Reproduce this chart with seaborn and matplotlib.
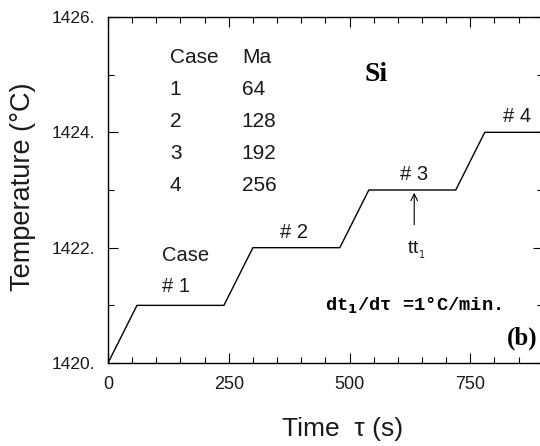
import matplotlib
matplotlib.use("Agg")
import matplotlib.pyplot as plt
from matplotlib.ticker import MultipleLocator, FuncFormatter
import seaborn as sns
import pandas as pd

# Heating schedule: time (s) and temperature (°C) breakpoints
time_s = [0, 60, 240, 300, 480, 540, 720, 780, 900]
temp_c = [1420, 1421, 1421, 1422, 1422, 1423, 1423, 1424, 1424]

# Case table
cases = ["1", "2", "3", "4"]
marangoni = ["64", "128", "192", "256"]

df = pd.DataFrame({"time": time_s, "temp": temp_c})

sns.set_theme(style="ticks")
plt.rcParams["font.family"] = ["Liberation Sans", "DejaVu Sans"]

ink = "#1a1a1a"

fig = plt.figure(figsize=(5.4, 4.46), dpi=100)
ax = fig.add_axes([0.2, 0.186, 0.805, 0.776])

sns.lineplot(data=df, x="time", y="temp", ax=ax, color="black", linewidth=1.0)

ax.set_xlim(0, 900)
ax.set_ylim(1420, 1426)
ax.xaxis.set_major_locator(MultipleLocator(250))
ax.xaxis.set_minor_locator(MultipleLocator(50))
ax.yaxis.set_major_locator(MultipleLocator(2))
ax.yaxis.set_minor_locator(MultipleLocator(1))
ax.yaxis.set_major_formatter(FuncFormatter(lambda v, p: f"{v:.0f}."))
ax.tick_params(which="both", direction="in", top=True, right=True,
               colors="black", labelcolor=ink, width=0.8)
ax.tick_params(which="major", length=7)
ax.tick_params(which="minor", length=4)
ax.tick_params(axis="x", pad=9, labelsize=13)
ax.tick_params(axis="y", pad=9, labelsize=12.5)
for s in ax.spines.values():
    s.set_color("black")
    s.set_linewidth(1.0)

ax.set_xlabel("Time  τ (s)", fontsize=19, color=ink)
ax.set_ylabel("Temperature (°C)", fontsize=19.5, color=ink)
ax.xaxis.set_label_coords(0.54, -0.155)
ax.yaxis.set_label_coords(-0.165, 0.51)

# Case / Ma table
ax.text(128, 1425.3, "Case", fontsize=15, ha="left", va="center", color=ink)
ax.text(277, 1425.3, "Ma", fontsize=15, ha="left", va="center", color=ink)
for i, (c, m) in enumerate(zip(cases, marangoni)):
    y = 1424.75 - 0.56 * i
    ax.text(128, y, c, fontsize=15, ha="left", va="center", color=ink)
    ax.text(277, y, m, fontsize=15, ha="left", va="center", color=ink)

ax.text(556, 1425.0, "Si", fontsize=20, fontweight="bold",
        family="Liberation Serif", ha="center", va="center", color="black")

# Step labels
ax.text(112, 1421.87, "Case", fontsize=14.5, ha="left", va="center", color=ink)
ax.text(112, 1421.32, "# 1", fontsize=14.5, ha="left", va="center", color=ink)
ax.text(386, 1422.27, "# 2", fontsize=14.5, ha="center", va="center", color=ink)
ax.text(634, 1423.27, "# 3", fontsize=14.5, ha="center", va="center", color=ink)
ax.text(847, 1424.27, "# 4", fontsize=14.5, ha="center", va="center", color=ink)

ax.annotate("", xy=(634, 1423.0), xytext=(634, 1422.35),
            arrowprops=dict(arrowstyle="->", color="black", lw=0.8))
ax.text(638, 1421.95, "tt$_{_1}$", fontsize=14, ha="center", va="center", color=ink)

ax.text(632, 1421.0, "dt$_\\mathbf{1}$/d\u03c4 =1°C/min.", fontsize=13.5,
        fontweight="bold", family="Liberation Mono", ha="center", va="center",
        color="black")
ax.text(890, 1420.43, "(b)", fontsize=18, fontweight="bold",
        family="Liberation Serif", ha="right", va="center", color="black")

fig.savefig("out.png", dpi=100)
